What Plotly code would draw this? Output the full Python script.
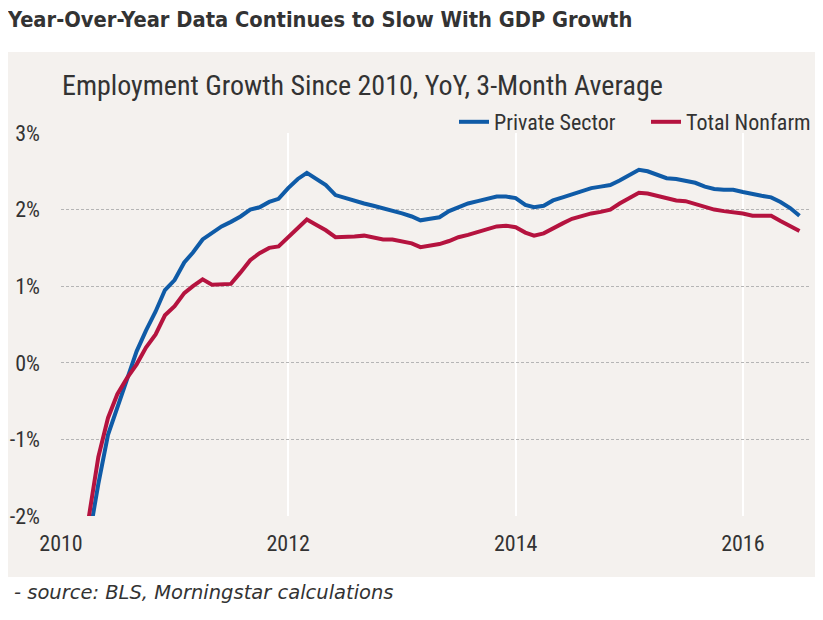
import pandas as pd
import plotly.graph_objects as go

# Monthly observations, Jan 2010 .. Jul 2016
months = pd.date_range("2010-01-01", periods=79, freq="MS")

private_sector = [
    -3.6, -3.2, -2.8, -2.29, -1.58, -0.94, -0.58, -0.19, 0.15, 0.42,
    0.67, 0.95, 1.08, 1.31, 1.44, 1.61, 1.70, 1.78, 1.84, 1.91,
    2.00, 2.03, 2.10, 2.14, 2.28, 2.40, 2.48, 2.40, 2.32, 2.19,
    2.15, 2.11, 2.08, 2.05, 2.02, 1.99, 1.95, 1.91, 1.86, 1.88,
    1.90, 1.98, 2.03, 2.08, 2.11, 2.14, 2.17, 2.17, 2.15, 2.06,
    2.03, 2.05, 2.12, 2.16, 2.20, 2.25, 2.28, 2.30, 2.32, 2.38,
    2.45, 2.52, 2.50, 2.46, 2.41, 2.40, 2.38, 2.35, 2.30, 2.27,
    2.26, 2.26, 2.23, 2.20, 2.18, 2.16, 2.10, 2.02, 1.92,
]

total_nonfarm = [
    -3.0, -2.8, -2.4, -2.0, -1.23, -0.72, -0.41, -0.20, -0.02, 0.20,
    0.37, 0.62, 0.74, 0.91, 1.00, 1.09, 1.02, 1.02, 1.03, 1.18,
    1.34, 1.43, 1.50, 1.52, 1.64, 1.77, 1.87, 1.80, 1.73, 1.64,
    1.64, 1.65, 1.66, 1.64, 1.61, 1.61, 1.58, 1.56, 1.51, 1.53,
    1.55, 1.59, 1.64, 1.67, 1.71, 1.75, 1.78, 1.79, 1.77, 1.70,
    1.66, 1.69, 1.76, 1.82, 1.88, 1.92, 1.95, 1.97, 2.00, 2.08,
    2.15, 2.22, 2.21, 2.18, 2.14, 2.12, 2.11, 2.07, 2.03, 2.00,
    1.98, 1.97, 1.95, 1.92, 1.92, 1.92, 1.85, 1.78, 1.72,
]

y_tickvals = [-2, -1, 0, 1, 2, 3]
y_ticktext = ["-2%", "-1%", "0%", "1%", "2%", "3%"]
x_tickvals = ["2010-01-01", "2012-01-01", "2014-01-01", "2016-01-01"]
x_ticktext = ["2010", "2012", "2014", "2016"]

BG = "#f4f1ee"
NARROW = "Roboto Condensed, Liberation Sans Narrow, DejaVu Sans Condensed, sans-serif"
TXT = "#333333"

W, H = 823, 620
OFF = 8  # page body margin: figure origin sits at page (8, 8)

# plot area in page pixels
PL, PR, PT, PB = 61, 811, 133, 516
L, R, T, B = PL - OFF, W - (PR - OFF), PT - OFF, H - (PB - OFF)
PW, PH = PR - PL, PB - PT


def px(page_x):
    return (page_x - PL) / PW


def py(page_y):
    return (PB - page_y) / PH


fig = go.Figure()
fig.add_trace(go.Scatter(x=months, y=private_sector, mode="lines",
                         name="Private Sector", legend="legend",
                         line=dict(color="#0f5ba7", width=4)))
fig.add_trace(go.Scatter(x=months, y=total_nonfarm, mode="lines",
                         name="Total Nonfarm", legend="legend2",
                         line=dict(color="#b5133f", width=4)))

# panel background
fig.add_shape(type="rect", xref="paper", yref="paper",
              x0=px(0), x1=px(835), y0=py(577), y1=py(52),
              fillcolor=BG, line=dict(width=0), layer="below")

legend_common = dict(orientation="h", xanchor="left", y=py(122), yanchor="middle",
                     bgcolor="rgba(0,0,0,0)",
                     font=dict(family=NARROW, size=22, color=TXT),
                     itemwidth=30)

fig.update_layout(
    width=W, height=H,
    margin=dict(l=L, r=R, t=T, b=B),
    paper_bgcolor="white",
    plot_bgcolor=BG,
    legend=dict(x=px(454), **legend_common),
    legend2=dict(x=px(646), **legend_common),
    showlegend=True,
    xaxis=dict(range=["2010-01-01", "2016-08-07"],
               tickvals=x_tickvals, ticktext=x_ticktext,
               showgrid=True, gridcolor="white", gridwidth=2,
               zeroline=False, showline=False, ticks="",
               automargin=False, ticklabelstandoff=12,
               tickfont=dict(family=NARROW, size=22, color=TXT)),
    yaxis=dict(range=[-2, 3],
               tickvals=y_tickvals, ticktext=y_ticktext,
               showgrid=True, gridcolor="#b5b5b5", gridwidth=1, griddash="3px,2px",
               zeroline=False, showline=False, ticks="",
               automargin=False, ticklabelstandoff=20,
               tickfont=dict(family=NARROW, size=22, color=TXT)),
    annotations=[
        dict(text="<b>Year-Over-Year Data Continues to Slow With GDP Growth</b>",
             xref="paper", yref="paper", x=px(5), y=py(19),
             xanchor="left", yanchor="middle", showarrow=False,
             font=dict(family="DejaVu Sans Condensed, DejaVu Sans, sans-serif",
                       size=21.7, color=TXT)),
        dict(text="Employment Growth Since 2010, YoY, 3-Month Average",
             xref="paper", yref="paper", x=px(60), y=py(85),
             xanchor="left", yanchor="middle", showarrow=False,
             font=dict(family=NARROW, size=28, color=TXT)),
        dict(text="<i>- source: BLS, Morningstar calculations</i>",
             xref="paper", yref="paper", x=px(12), y=py(592),
             xanchor="left", yanchor="middle", showarrow=False,
             font=dict(family="DejaVu Sans, Verdana, sans-serif", size=19.5, color=TXT)),
    ],
)

fig.write_html("out.html")
